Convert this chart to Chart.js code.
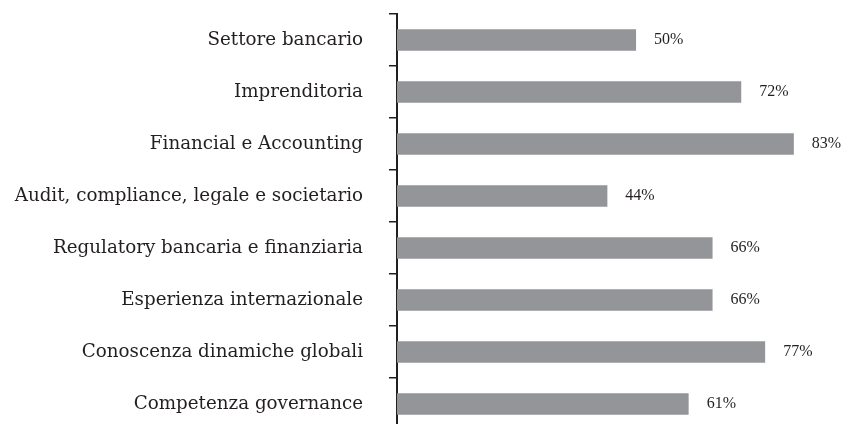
<!DOCTYPE html>
<html>
<head>
<meta charset="utf-8">
<script src="https://cdn.jsdelivr.net/npm/chart.js@4"></script>
<style>
  html, body { margin: 0; padding: 0; background: #fff; overflow: hidden; }
  #wrap { width: 845px; height: 430px; position: relative; }
</style>
</head>
<body>
<div id="wrap"><canvas id="barChart"></canvas></div>
<script>
// categories and values
const categories = [
  "Settore bancario",
  "Imprenditoria",
  "Financial e Accounting",
  "Audit, compliance, legale e societario",
  "Regulatory bancaria e finanziaria",
  "Esperienza internazionale",
  "Conoscenza dinamiche globali",
  "Competenza governance"
];
const percentages = [50, 72, 83, 44, 66, 66, 77, 61];

const INK = "#231f20";
const BAR_GREY = "#939598";
const SERIF = "'DejaVu Serif', serif";

// writes "NN%" to the right of each bar
const valueLabels = {
  id: "valueLabels",
  afterDatasetsDraw(chart) {
    const ctx = chart.ctx;
    const meta = chart.getDatasetMeta(0);
    ctx.save();
    ctx.font = "16px 'Liberation Serif', serif";
    ctx.fillStyle = INK;
    ctx.textAlign = "left";
    ctx.textBaseline = "middle";
    meta.data.forEach((bar, i) => {
      ctx.fillText(percentages[i] + "%", bar.x + 18, bar.y);
    });
    ctx.restore();
  }
};

const CHART = document.getElementById("barChart");
let barChart = new Chart(CHART, {
  type: "bar",
  data: {
    labels: categories,
    datasets: [{
      data: percentages,
      backgroundColor: BAR_GREY,
      borderWidth: 0,
      barPercentage: 0.41,
      categoryPercentage: 1.0
    }]
  },
  options: {
    indexAxis: "y",
    responsive: true,
    maintainAspectRatio: false,
    animation: false,
    layout: { padding: { top: 14, right: 0, bottom: 0, left: 0 } },
    plugins: {
      legend: { display: false },
      tooltip: { enabled: false }
    },
    scales: {
      x: {
        display: false,
        min: 0,
        max: 93.7
      },
      y: {
        afterFit(scale) {
          scale.width = 397;
          scale.paddingTop = 0;
          scale.paddingBottom = 0;
        },
        border: { display: true, color: INK, width: 2 },
        grid: {
          offset: true,
          drawOnChartArea: false,
          drawTicks: true,
          tickLength: 8,
          color: INK,
          lineWidth: 1.5
        },
        ticks: {
          color: INK,
          padding: 26,
          font: { family: SERIF, size: 18.3 }
        }
      }
    }
  },
  plugins: [valueLabels]
});
</script>
</body>
</html>
